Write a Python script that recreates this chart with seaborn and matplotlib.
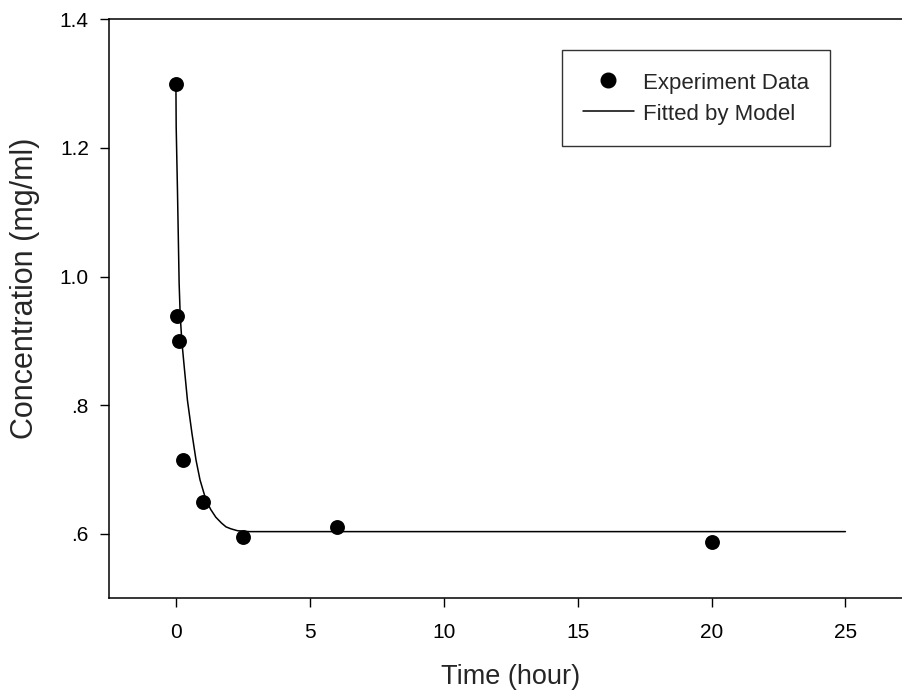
import numpy as np
import pandas as pd
import matplotlib
matplotlib.use("Agg")
import matplotlib.pyplot as plt
import seaborn as sns
from matplotlib.lines import Line2D

# experiment data
time_h = [0, 0.05, 0.1, 0.25, 1, 2.5, 6, 20]
conc = [1.3, 0.939, 0.9, 0.715, 0.65, 0.595, 0.611, 0.588]

# fitted curve, points
fit_t = [0, 0.01, 0.06, 0.12, 0.16, 0.22, 0.31, 0.43, 0.6, 0.75, 0.9, 1.12,
         1.3, 1.49, 1.7, 1.87, 2.05, 2.3, 2.74, 25]
fit_y = [1.3, 1.233, 1.13, 0.99, 0.94, 0.9, 0.86, 0.808, 0.756, 0.715, 0.684,
         0.653, 0.638, 0.626, 0.617, 0.611, 0.608, 0.605, 0.6036, 0.6036]

yticks = [0.6, 0.8, 1.0, 1.2, 1.4]
ytick_labels = [".6", ".8", "1.0", "1.2", "1.4"]
xticks = [0, 5, 10, 15, 20, 25]

sns.set_style("ticks")
plt.rcParams['font.family'] = ['Liberation Sans', 'DejaVu Sans']

fig = plt.figure(figsize=(9.02, 6.93), dpi=100)
ax = fig.add_axes([0.1208, 0.1367, 0.8907, 0.8355])

df_fit = pd.DataFrame({"t": fit_t, "y": fit_y})
df_pts = pd.DataFrame({"t": time_h, "y": conc})

sns.lineplot(data=df_fit, x="t", y="y", ax=ax, color="black", linewidth=1.1,
             sort=False, estimator=None)
sns.scatterplot(data=df_pts, x="t", y="y", ax=ax, color="black", s=115,
                edgecolor="black", linewidth=0, zorder=3)

ax.set_xlim(-2.5, 27.5)
ax.set_ylim(0.5, 1.4)
ax.set_xticks(xticks)
ax.set_yticks(yticks)
ax.set_yticklabels(ytick_labels)
ax.tick_params(axis="both", direction="out", length=6.5, width=1.0,
               labelsize=15, color="black", labelcolor="black", pad=8)
ax.tick_params(axis="x", pad=11)

for side in ["left", "bottom", "top"]:
    ax.spines[side].set_linewidth(1.1)
    ax.spines[side].set_color("black")
ax.spines["right"].set_visible(False)

ax.set_xlabel("Time (hour)", fontsize=19.5, labelpad=16)
ax.set_ylabel("Concentration (mg/ml)", fontsize=22)
ax.yaxis.set_label_coords(-0.086, 0.535)

handles = [
    Line2D([], [], marker="o", color="black", linestyle="none", markersize=10.5),
    Line2D([], [], color="black", linewidth=1.1),
]
leg = ax.legend(handles, ["Experiment Data", "Fitted by Model"],
                loc="upper left", bbox_to_anchor=(562 / 902, 1 - 50 / 693),
                bbox_transform=fig.transFigure, borderaxespad=0,
                fontsize=16, frameon=True, fancybox=False, handlelength=2.3,
                handleheight=1.1, borderpad=0.93, labelspacing=0.35,
                handletextpad=0.42)
leg.get_frame().set_edgecolor("black")
leg.get_frame().set_linewidth(1.0)

fig.savefig("out.png", dpi=100)
